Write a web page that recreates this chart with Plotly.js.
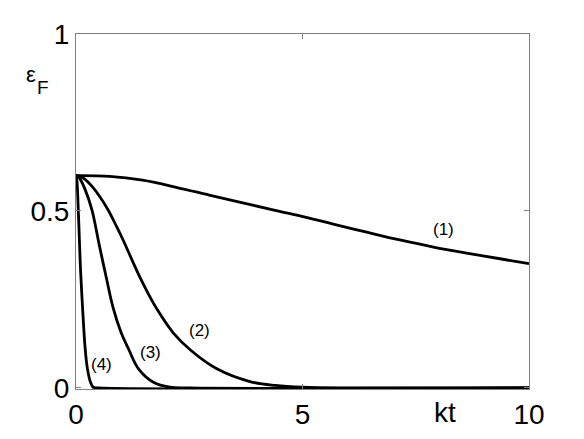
<!DOCTYPE html>
<html>
<head>
<meta charset="utf-8">
<script src="https://cdn.plot.ly/plotly-3.0.1.min.js"></script>
<style>html,body{margin:0;padding:0;background:#fff;}#chart{width:584px;height:439px;}</style>
</head>
<body>
<div id="chart"></div>
<script>
// Curve (1)
var t1 = [0, 0.74, 1.47, 2.21, 2.94, 3.68, 4.42, 5.08, 5.68, 6.42, 7.15, 7.89, 8.62, 9.36, 10];
var e1 = [0.60, 0.598, 0.587, 0.567, 0.545, 0.523, 0.501, 0.482, 0.463, 0.440, 0.418, 0.398, 0.381, 0.365, 0.351];
// Curve (2)
var t2 = [0, 0.1, 0.2, 0.35, 0.5, 0.7, 0.9, 1.04, 1.27, 1.41, 1.6, 1.8, 2.15, 2.52, 3.11, 3.84, 4.4, 5.0, 6.0, 10];
var e2 = [0.60, 0.597, 0.589, 0.570, 0.545, 0.505, 0.455, 0.418, 0.352, 0.313, 0.265, 0.220, 0.155, 0.108, 0.054, 0.018, 0.007, 0.002, 0, 0];
// Curve (3)
var t3 = [0, 0.05, 0.1, 0.2, 0.35, 0.51, 0.60, 0.66, 0.82, 1.0, 1.16, 1.38, 1.71, 2.07, 2.5, 10];
var e3 = [0.60, 0.597, 0.588, 0.561, 0.504, 0.406, 0.352, 0.317, 0.226, 0.155, 0.110, 0.054, 0.016, 0.002, 0, 0];
// Curve (4)
var t4 = [0, 0.02, 0.05, 0.08, 0.10, 0.125, 0.15, 0.20, 0.25, 0.32, 0.38, 0.5, 10];
var e4 = [0.60, 0.585, 0.504, 0.40, 0.335, 0.272, 0.215, 0.115, 0.056, 0.016, 0.002, 0, 0];

var curveLabels = ['(1)', '(2)', '(3)', '(4)'];
var labelX = [8.12, 2.72, 1.64, 0.57];
var labelY = [0.448, 0.163, 0.101, 0.065];

var xTicks = [0, 5, 10];
var yTicks = [0, 0.5, 1];
var yTickText = ['0', '0.5', '1'];

var lineStyle = {color: '#000', width: 2.8, shape: 'spline', smoothing: 1};
var traces = [
  {x: t1, y: e1, mode: 'lines', line: lineStyle},
  {x: t2, y: e2, mode: 'lines', line: lineStyle},
  {x: t3, y: e3, mode: 'lines', line: lineStyle},
  {x: t4, y: e4, mode: 'lines', line: lineStyle}
];

var FONT = 'Liberation Sans, Arial, sans-serif';
var annotations = curveLabels.map(function (s, i) {
  return {x: labelX[i], y: labelY[i], xref: 'x', yref: 'y', text: s, showarrow: false,
          font: {family: FONT, size: 17, color: '#000'}, xanchor: 'center', yanchor: 'middle'};
});
annotations.push({x: 0.815, y: -0.065, xref: 'paper', yref: 'paper', text: 'kt', showarrow: false,
  font: {family: FONT, size: 28, color: '#000'}, xanchor: 'center', yanchor: 'middle'});
annotations.push({x: -0.099, y: 0.885, xref: 'paper', yref: 'paper', text: 'ε', showarrow: false,
  font: {family: FONT, size: 22, color: '#000'}, xanchor: 'center', yanchor: 'middle'});
annotations.push({x: -0.073, y: 0.848, xref: 'paper', yref: 'paper', text: 'F', showarrow: false,
  font: {family: FONT, size: 19, color: '#000'}, xanchor: 'center', yanchor: 'middle'});

var axisCommon = {
  showline: true, mirror: 'ticks', linecolor: '#808080', linewidth: 1,
  ticks: 'inside', ticklen: 5, tickcolor: '#808080', tickwidth: 1,
  showgrid: false, zeroline: false,
  tickfont: {family: FONT, size: 28, color: '#000'}
};

var layout = {
  width: 584, height: 439,
  margin: {l: 76, r: 55, t: 34, b: 50},
  paper_bgcolor: '#fff', plot_bgcolor: '#fff',
  showlegend: false,
  xaxis: Object.assign({}, axisCommon, {range: [0, 10], tickvals: xTicks, ticktext: xTicks.map(String)}),
  yaxis: Object.assign({}, axisCommon, {range: [-0.003, 1], tickvals: yTicks, ticktext: yTickText}),
  annotations: annotations
};

Plotly.newPlot('chart', traces, layout, {staticPlot: true, displayModeBar: false});
</script>
</body>
</html>
